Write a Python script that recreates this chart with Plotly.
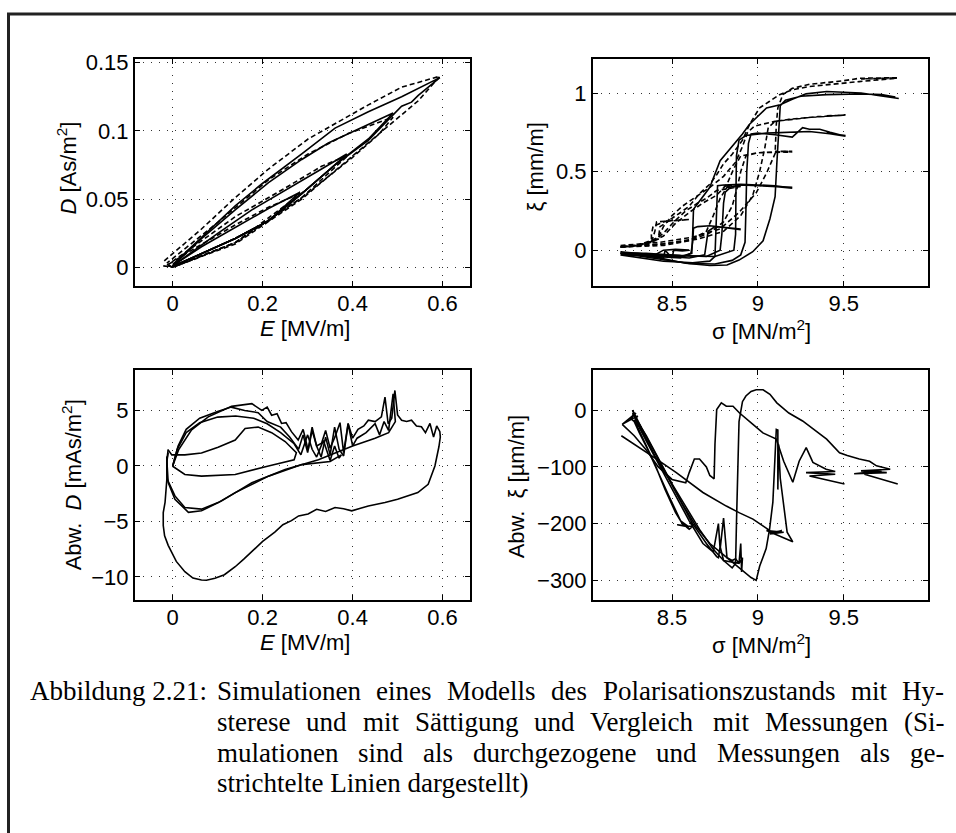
import plotly.graph_objects as go

W, H = 956, 833

# ---------------- Data: top-left  D over E ----------------
sim_E_06 = [0, 0.064, 0.139, 0.213, 0.287, 0.361, 0.435, 0.479, 0.509, 0.531, 0.546, 0.594, 0.509, 0.435, 0.361, 0.287, 0.198, 0.139, 0.064, 0]
sim_D_06 = [0.0005, 0.010, 0.021, 0.034, 0.054, 0.075, 0.093, 0.108, 0.118, 0.121, 0.126, 0.139, 0.125, 0.114, 0.102, 0.083, 0.061, 0.045, 0.022, 0.002]
sim_E_05 = [0, 0.064, 0.139, 0.213, 0.287, 0.361, 0.435, 0.490, 0.390, 0.346, 0.287, 0.213, 0.139, 0.064, 0]
sim_D_05 = [0.0005, 0.010, 0.021, 0.034, 0.054, 0.075, 0.094, 0.113, 0.098, 0.091, 0.079, 0.062, 0.042, 0.021, 0.001]
sim_E_04 = [0, 0.064, 0.139, 0.213, 0.287, 0.350, 0.387, 0.331, 0.250, 0.176, 0.101, 0]
sim_D_04 = [0.0005, 0.010, 0.021, 0.034, 0.054, 0.072, 0.083, 0.072, 0.056, 0.042, 0.025, 0.001]
sim_E_03 = [0, 0.064, 0.139, 0.213, 0.283, 0.213, 0.139, 0.064, 0]
sim_D_03 = [0.0005, 0.010, 0.021, 0.034, 0.055, 0.043, 0.029, 0.015, 0.001]

meas_E_06 = [-0.021, 0.0, 0.139, 0.287, 0.398, 0.494, 0.546, 0.594, 0.509, 0.435, 0.301, 0.213, 0.139, 0.064, -0.021]
meas_D_06 = [0.001, 0.0, 0.017, 0.050, 0.081, 0.108, 0.122, 0.140, 0.132, 0.119, 0.094, 0.072, 0.051, 0.028, 0.004]
meas_E_05 = [-0.013, 0.0, 0.139, 0.287, 0.398, 0.460, 0.490, 0.390, 0.301, 0.213, 0.101, -0.013]
meas_D_05 = [0.002, 0.0, 0.018, 0.051, 0.080, 0.098, 0.110, 0.098, 0.083, 0.064, 0.033, 0.003]
meas_E_04 = [-0.010, 0.0, 0.139, 0.287, 0.390, 0.331, 0.250, 0.139, 0.050, -0.010]
meas_D_04 = [0.001, 0.0, 0.018, 0.051, 0.082, 0.074, 0.058, 0.037, 0.016, 0.002]
meas_E_03 = [-0.010, 0.0, 0.139, 0.290, 0.213, 0.139, 0.050, -0.010]
meas_D_03 = [0.001, 0.0, 0.018, 0.055, 0.044, 0.031, 0.014, 0.002]

# ---------------- Data: top-right  xi over sigma ----------------
sim_s_98 = [8.20, 8.43, 8.58, 8.72, 8.82, 8.89, 8.97, 9.03, 9.07, 9.10, 9.11, 9.12, 9.13, 9.16, 9.25, 9.40, 9.60, 9.72, 9.80, 9.70, 9.82,
            9.60, 9.40, 9.28, 9.20, 9.13, 9.05, 8.95, 8.91, 8.84, 8.78, 8.72, 8.65, 8.625, 8.62, 8.615, 8.55, 8.43, 8.20]
sim_x_98 = [-0.01, -0.05, -0.083, -0.098, -0.094, -0.063, -0.01, 0.06, 0.20, 0.34, 0.55, 0.78, 0.92, 0.955, 0.98, 0.99, 0.995, 0.99, 0.975, 0.985, 0.965,
            1.00, 1.01, 0.995, 0.96, 0.925, 0.905, 0.80, 0.74, 0.65, 0.57, 0.40, 0.30, 0.26, 0.10, -0.02, -0.04, -0.035, -0.01]
sim_s_95 = [8.20, 8.43, 8.60, 8.75, 8.85, 8.90, 8.925, 8.93, 8.935, 8.945, 8.96, 9.00, 9.10, 9.20, 9.26, 9.30, 9.36, 9.42, 9.51, 9.40, 9.51,
            9.30, 9.05, 8.93, 8.89, 8.875, 8.872, 8.87, 8.86, 8.75, 8.55, 8.35, 8.20]
sim_x_95 = [-0.02, -0.06, -0.085, -0.088, -0.065, -0.03, 0.05, 0.25, 0.50, 0.68, 0.74, 0.745, 0.735, 0.72, 0.78, 0.77, 0.77, 0.75, 0.725, 0.745, 0.73,
            0.755, 0.745, 0.73, 0.70, 0.60, 0.35, 0.10, 0.0, -0.04, -0.035, -0.02, -0.02]
sim_s_92 = [8.20, 8.45, 8.62, 8.72, 8.75, 8.755, 8.76, 8.765, 8.80, 8.90, 9.00, 9.10, 9.20, 9.05, 9.20,
            8.90, 8.84, 8.81, 8.80, 8.79, 8.78, 8.70, 8.45, 8.20]
sim_x_92 = [-0.03, -0.07, -0.08, -0.07, -0.04, 0.10, 0.30, 0.41, 0.415, 0.42, 0.415, 0.41, 0.395, 0.41, 0.40,
            0.415, 0.40, 0.37, 0.30, 0.10, 0.0, -0.04, -0.03, -0.03]
sim_s_89 = [8.20, 8.40, 8.55, 8.61, 8.62, 8.625, 8.65, 8.72, 8.80, 8.90, 8.80, 8.90,
            8.75, 8.71, 8.70, 8.69, 8.60, 8.40, 8.20]
sim_x_89 = [-0.02, -0.04, -0.05, -0.02, 0.05, 0.14, 0.15, 0.155, 0.145, 0.13, 0.145, 0.135,
            0.15, 0.12, 0.05, -0.03, -0.05, -0.035, -0.02]
sim_s_86 = [8.20, 8.30, 8.40, 8.45, 8.46, 8.50, 8.51, 8.56, 8.60, 8.52, 8.45, 8.40, 8.30, 8.20]
sim_x_86 = [-0.02, -0.03, -0.045, -0.05, 0.0, -0.05, 0.0, -0.005, 0.0, 0.005, 0.0, -0.03, -0.02, -0.02]

meas_s_98 = [8.20, 8.43, 8.62, 8.78, 8.89, 8.99, 9.05, 9.10, 9.107, 9.116, 9.145, 9.20, 9.30, 9.49, 9.59, 9.70, 9.81, 9.60, 9.81,
             9.59, 9.30, 9.20, 9.126, 9.068, 9.01, 8.952, 8.91, 8.85, 8.80, 8.76, 8.72, 8.66, 8.60, 8.55, 8.49, 8.43, 8.39, 8.38, 8.38, 8.30, 8.20]
meas_x_98 = [0.03, 0.05, 0.083, 0.135, 0.24, 0.365, 0.49, 0.615, 0.80, 0.906, 0.99, 1.03, 1.056, 1.077, 1.094, 1.095, 1.098, 1.09, 1.095,
             1.073, 1.042, 1.021, 0.99, 0.948, 0.906, 0.802, 0.70, 0.61, 0.55, 0.48, 0.42, 0.36, 0.28, 0.24, 0.196, 0.17, 0.153, 0.10, 0.05, 0.03, 0.02]
meas_s_95 = [8.20, 8.45, 8.65, 8.80, 8.90, 8.97, 9.01, 9.04, 9.06, 9.10, 9.20, 9.35, 9.51, 9.40, 9.51,
             9.30, 9.10, 8.98, 8.94, 8.91, 8.87, 8.80, 8.72, 8.64, 8.56, 8.50, 8.45, 8.42, 8.30, 8.20]
meas_x_95 = [0.02, 0.04, 0.07, 0.12, 0.22, 0.35, 0.50, 0.65, 0.78, 0.82, 0.835, 0.85, 0.86, 0.855, 0.86,
             0.845, 0.82, 0.79, 0.75, 0.66, 0.56, 0.47, 0.40, 0.34, 0.28, 0.22, 0.15, 0.08, 0.03, 0.02]
meas_s_92 = [8.20, 8.45, 8.62, 8.72, 8.80, 8.85, 8.88, 8.90, 8.93, 9.00, 9.10, 9.20, 9.10, 9.20,
             9.00, 8.90, 8.86, 8.82, 8.76, 8.68, 8.60, 8.52, 8.45, 8.35, 8.20]
meas_x_92 = [0.02, 0.04, 0.07, 0.11, 0.18, 0.28, 0.40, 0.50, 0.60, 0.62, 0.625, 0.63, 0.63, 0.625,
             0.62, 0.60, 0.52, 0.42, 0.35, 0.30, 0.24, 0.17, 0.09, 0.04, 0.02]
meas_s_89 = [8.20, 8.45, 8.60, 8.70, 8.74, 8.78, 8.82, 8.90, 8.80, 8.90,
             8.76, 8.70, 8.65, 8.58, 8.52, 8.46, 8.40, 8.30, 8.20]
meas_x_89 = [0.02, 0.03, 0.06, 0.12, 0.22, 0.33, 0.40, 0.41, 0.41, 0.405,
             0.38, 0.33, 0.30, 0.25, 0.19, 0.12, 0.06, 0.03, 0.02]
meas_s_86 = [8.20, 8.32, 8.38, 8.40, 8.41, 8.45, 8.52, 8.60, 8.50, 8.60, 8.48, 8.43, 8.42, 8.30, 8.20]
meas_x_86 = [0.02, 0.03, 0.05, 0.12, 0.18, 0.185, 0.19, 0.195, 0.19, 0.195, 0.185, 0.15, 0.07, 0.03, 0.02]

# ---------------- Data: bottom-left  deviation of D ----------------
dev_E_03 = [-0.010, -0.002, 0.027, 0.064, 0.101, 0.139, 0.161, 0.190, 0.220, 0.250, 0.275, 0.270, 0.213, 0.139, 0.064, 0.027, 0.0]
dev_D_03 = [1.45, 1.0, 1.0, 1.16, 1.69, 2.34, 3.38, 3.5, 3.0, 2.2, 1.2, 0.56, 0.0, -0.77, -0.92, -0.77, -0.03]
dev_E_04 = [0.0, 0.01, 0.03, 0.06, 0.10, 0.14, 0.18, 0.21, 0.24, 0.27, 0.285, 0.30, 0.31, 0.32, 0.335, 0.35, 0.36, 0.37, 0.375,
            0.35, 0.287, 0.213, 0.139, 0.101, 0.064, 0.027, 0.005, -0.012, -0.013, -0.010]
dev_D_04 = [0.0, 1.5, 3.0, 3.9, 4.4, 4.5, 4.3, 3.8, 3.0, 2.0, 1.0, 2.8, 1.5, 0.8, 2.3, 0.5, 1.8, 0.7, 1.0,
            0.4, 0.12, -0.92, -2.4, -3.3, -3.89, -3.74, -2.7, -1.2, 0.4, 1.2]
dev_E_05 = [0.0, 0.012, 0.03, 0.06, 0.10, 0.13, 0.16, 0.19, 0.21, 0.24, 0.26, 0.28, 0.29, 0.30, 0.31, 0.32, 0.33, 0.34, 0.35, 0.36,
            0.37, 0.38, 0.39, 0.40, 0.41, 0.43, 0.45, 0.46, 0.47, 0.48, 0.49, 0.495,
            0.48, 0.45, 0.40, 0.35, 0.324, 0.25, 0.176, 0.109, 0.064, 0.035, 0.005, -0.010, -0.013, -0.010]
dev_D_05 = [0.0, 1.8, 3.3, 4.3, 4.9, 5.3, 5.0, 4.8, 4.0, 3.5, 2.6, 1.5, 2.8, 1.2, 3.2, 1.8, 0.8, 2.6, 1.0, 3.5,
            1.5, 0.9, 3.8, 1.8, 2.5, 3.0, 3.8, 2.8, 4.0, 3.2, 6.5, 4.0,
            3.0, 2.5, 1.8, 1.0, 0.56, -0.33, -1.51, -3.15, -4.04, -4.18, -3.0, -1.5, 0.5, 1.5]
dev_E_06 = [0.0, 0.013, 0.042, 0.079, 0.131, 0.176, 0.198, 0.210, 0.220, 0.232, 0.242, 0.252, 0.264, 0.279, 0.290, 0.301, 0.310,
            0.320, 0.331, 0.340, 0.350, 0.361, 0.372, 0.380, 0.390, 0.400, 0.412, 0.425, 0.435, 0.450, 0.464, 0.472, 0.479, 0.487,
            0.494, 0.500, 0.509, 0.520, 0.531, 0.542, 0.553, 0.562, 0.572, 0.580, 0.587, 0.594, 0.595,
            0.592, 0.583, 0.568, 0.545, 0.524, 0.500, 0.472, 0.435, 0.398, 0.380, 0.361, 0.340, 0.320, 0.301, 0.280, 0.264, 0.245,
            0.227, 0.200, 0.176, 0.158, 0.139, 0.115, 0.094, 0.075, 0.064, 0.045, 0.027, 0.008, -0.010, -0.018, -0.021, -0.021,
            -0.017, -0.013, -0.013]
dev_D_06 = [0.0, 1.45, 3.26, 4.42, 5.37, 5.61, 5.01, 5.3, 4.57, 4.7, 3.83, 3.9, 3.09, 2.34, 3.3, 1.45, 3.5,
            1.8, 2.05, 3.2, 1.6, 2.64, 3.9, 1.2, 3.83, 2.5, 3.3, 3.6, 4.12, 4.0, 4.42, 6.2, 3.8, 4.3,
            6.8, 4.6, 4.12, 4.0, 4.12, 3.6, 3.53, 3.0, 3.83, 2.6, 3.6, 3.09, 2.6,
            1.75, 0.0, -1.66, -2.4, -2.70, -3.0, -3.29, -3.6, -4.04, -3.85, -3.74, -4.1, -3.9, -4.33, -4.5, -4.93, -5.3,
            -5.96, -6.8, -7.74, -8.4, -9.08, -9.8, -10.12, -10.3, -10.27, -10.1, -9.53, -8.6, -7.15, -6.3, -5.37, -4.2,
            -3.29, -1.22, 0.86]

# ---------------- Data: bottom-right  deviation of xi ----------------
dev_s_98 = [8.27, 8.30, 8.35, 8.42, 8.50, 8.58, 8.66, 8.74, 8.80, 8.85, 8.87, 8.875, 8.88, 8.89, 8.91, 8.93, 8.96, 8.99, 9.03,
            9.07, 9.11, 9.18, 9.26, 9.33, 9.40, 9.475, 9.52, 9.59, 9.65, 9.69, 9.77, 9.60, 9.75, 9.56, 9.72, 9.62, 9.814]
dev_x_98 = [0, -20, -45, -85, -130, -170, -210, -245, -265, -278, -270, -200, -120, -20, 15, 25, 33, 36, 36,
            28, 13, -5, -19, -35, -51, -75, -80, -86, -90, -98, -104, -107, -110, -112, -107, -113, -130]
dev_s_95 = [8.21, 8.28, 8.35, 8.42, 8.50, 8.58, 8.60, 8.63, 8.66, 8.70, 8.72, 8.745, 8.75, 8.755, 8.76, 8.787, 8.816, 8.855,
            8.893, 8.971, 9.029, 9.107, 9.15, 9.203, 9.24, 9.281, 9.32, 9.397, 9.45, 9.28, 9.45, 9.30, 9.504]
dev_x_95 = [-25, -45, -70, -100, -122, -128, -110, -86, -86, -100, -115, -121, -60, -10, 1, 13, 7, 7,
            -5, -25, -40, -51, -90, -127, -90, -66, -92, -104, -108, -110, -113, -116, -130]
dev_s_92 = [8.27, 8.32, 8.40, 8.48, 8.56, 8.64, 8.72, 8.80, 8.86, 8.92, 8.96, 8.99, 9.01, 9.048, 9.068, 9.087, 9.097, 9.107,
            9.116, 9.116, 9.12, 9.13, 9.15, 9.17, 9.203, 9.05, 9.15, 9.07, 9.14, 9.087, 9.029, 8.971, 8.893, 8.816, 8.68,
            8.525, 8.38, 8.205]
dev_x_92 = [-5, -30, -75, -120, -165, -205, -235, -255, -270, -285, -295, -300, -275, -244, -209, -162, -104, -34,
            -35, -140, -60, -120, -170, -215, -232, -212, -215, -218, -212, -216, -204, -192, -181, -169, -145,
            -110, -80, -45]
dev_s_89 = [8.28, 8.30, 8.36, 8.44, 8.52, 8.60, 8.68, 8.74, 8.77, 8.78, 8.80, 8.82, 8.85, 8.87, 8.89, 8.90, 8.905, 8.91,
            8.89, 8.85, 8.80, 8.78, 8.77, 8.76, 8.70, 8.62, 8.55, 8.48, 8.40, 8.33, 8.28]
dev_x_89 = [-10, -25, -60, -105, -150, -195, -235, -250, -200, -245, -190, -260, -265, -262, -270, -235, -285, -260,
            -270, -268, -265, -240, -260, -258, -235, -200, -160, -120, -80, -40, -10]
dev_s_86 = [8.26, 8.28, 8.30, 8.34, 8.40, 8.46, 8.52, 8.56, 8.60, 8.62, 8.53, 8.60, 8.55, 8.48, 8.42, 8.36, 8.31, 8.28,
            8.30, 8.21, 8.29, 8.26, 8.32, 8.27]
dev_x_86 = [-15, -5, -30, -55, -95, -140, -180, -200, -210, -205, -202, -206, -195, -150, -110, -70, -40, -20,
            -10, -25, -5, -15, -30, 0]

# ---------------- Tick labels and text ----------------
E_ticks = [0, 0.2, 0.4, 0.6]
E_labels = ["0", "0.2", "0.4", "0.6"]
D_ticks = [0, 0.05, 0.1, 0.15]
D_labels = ["0", "0.05", "0.1", "0.15"]
s_ticks = [8.5, 9, 9.5]
s_labels = ["8.5", "9", "9.5"]
xi_ticks = [0, 0.5, 1]
xi_labels = ["0", "0.5", "1"]
dD_ticks = [-10, -5, 0, 5]
dD_labels = ["\u221210", "\u22125", "0", "5"]
dxi_ticks = [-300, -200, -100, 0]
dxi_labels = ["\u2212300", "\u2212200", "\u2212100", "0"]

caption_label = "Abbildung 2.21:"
caption_lines = [
    "Simulationen eines Modells des Polarisationszustands mit Hy-",
    "sterese und mit Sättigung und Vergleich mit Messungen (Si-",
    "mulationen sind als durchgezogene und Messungen als ge-",
    "strichtelte Linien dargestellt)",
]

# ---------------- Figure ----------------
fig = go.Figure()
SOLID = dict(color="black", width=1.6)
DASH = dict(color="black", width=1.6, dash="5px,3px")


def add(x, y, axn, dashed):
    fig.add_trace(go.Scatter(x=x, y=y, mode="lines", xaxis="x" + axn, yaxis="y" + axn,
                             line=DASH if dashed else SOLID, showlegend=False, hoverinfo="skip"))


for e, d in [(meas_E_06, meas_D_06), (meas_E_05, meas_D_05), (meas_E_04, meas_D_04), (meas_E_03, meas_D_03)]:
    add(e, d, "", True)
for e, d in [(sim_E_06, sim_D_06), (sim_E_05, sim_D_05), (sim_E_04, sim_D_04), (sim_E_03, sim_D_03)]:
    add(e, d, "", False)

for s, x in [(meas_s_98, meas_x_98), (meas_s_95, meas_x_95), (meas_s_92, meas_x_92), (meas_s_89, meas_x_89), (meas_s_86, meas_x_86)]:
    add(s, x, "2", True)
for s, x in [(sim_s_98, sim_x_98), (sim_s_95, sim_x_95), (sim_s_92, sim_x_92), (sim_s_89, sim_x_89), (sim_s_86, sim_x_86)]:
    add(s, x, "2", False)

for e, d in [(dev_E_03, dev_D_03), (dev_E_04, dev_D_04), (dev_E_05, dev_D_05), (dev_E_06, dev_D_06)]:
    add(e, d, "3", False)

for s, x in [(dev_s_98, dev_x_98), (dev_s_95, dev_x_95), (dev_s_92, dev_x_92), (dev_s_89, dev_x_89), (dev_s_86, dev_x_86)]:
    add(s, x, "4", False)

SANS = "Liberation Sans, Arial, sans-serif"
TICKFONT = dict(family=SANS, size=22, color="black")


def axis(domain, rng, tv, tt, anchor, is_x):
    d = dict(domain=domain, range=rng, tickvals=tv, ticktext=tt, anchor=anchor,
             showgrid=True, griddash="1px,7px", gridcolor="#333", gridwidth=1,
             zeroline=False, showline=True, linewidth=2, linecolor="black", mirror="ticks",
             ticks="inside", ticklen=5, tickwidth=1, tickcolor="black", tickfont=TICKFONT,
             fixedrange=True)
    d["ticklabelstandoff"] = -4 if is_x else 0
    return d


xL = [135 / W, 470 / W]
xR = [593 / W, 928 / W]
yT = [1 - 281 / H, 1 - 51 / H]
yB = [1 - 598 / H, 1 - 366 / H]

fig.update_layout(
    width=W, height=H, margin=dict(l=0, r=0, t=0, b=0),
    paper_bgcolor="white", plot_bgcolor="white", showlegend=False,
    xaxis=axis(xL, [-0.0838, 0.661], E_ticks, E_labels, "y", True),
    yaxis=axis(yT, [-0.014, 0.153], D_ticks, D_labels, "x", False),
    xaxis2=axis(xR, [8.04, 9.99], s_ticks, s_labels, "y2", True),
    yaxis2=axis(yT, [-0.23, 1.22], xi_ticks, xi_labels, "x2", False),
    xaxis3=axis(xL, [-0.0838, 0.661], E_ticks, E_labels, "y3", True),
    yaxis3=axis(yB, [-12.1, 8.6], dD_ticks, dD_labels, "x3", False),
    xaxis4=axis(xR, [8.04, 9.99], s_ticks, s_labels, "y4", True),
    yaxis4=axis(yB, [-335, 70], dxi_ticks, dxi_labels, "x4", False),
)

ann = []


def text(px, py, t, angle=0, size=22, family=SANS, xanchor="center", yanchor="middle"):
    ann.append(dict(x=px / W, y=1 - py / H, xref="paper", yref="paper", text=t, showarrow=False,
                    textangle=angle, xanchor=xanchor, yanchor=yanchor,
                    font=dict(family=family, size=size, color="black")))


NB = "\u00a0"
text(305, 324, "<i>E</i> [MV/m]")
text(305, 641, "<i>E</i> [MV/m]")
text(761, 325, "\u03c3 [MN/m<sup>2</sup>]")
text(761, 642, "\u03c3 [MN/m<sup>2</sup>]")
text(67, 162, "<i>D</i> [As/m<sup>2</sup>]", angle=-90)
text(72, 482, "Abw." + NB + NB + "<i>D</i> [mAs/m<sup>2</sup>]", angle=-90)
text(535, 161, "\u03be [mm/m]", angle=-90)
text(516, 483, "Abw." + NB + NB + "\u03be [\u00b5m/m]", angle=-90)

# ---- caption, justified word by word (Times metrics) ----
TW = {" ": 250, "(": 333, ")": 333, "-": 333, ".": 250, ":": 278, "ä": 444,
      "A": 722, "H": 722, "L": 611, "M": 889, "P": 556, "S": 556, "V": 722}
for c in "0123456789":
    TW[c] = 500
TW.update({"a": 444, "b": 500, "c": 444, "d": 500, "e": 444, "f": 333, "g": 500, "h": 500, "i": 278, "j": 278,
           "k": 500, "l": 278, "m": 778, "n": 500, "o": 500, "p": 500, "q": 500, "r": 333, "s": 389, "t": 278,
           "u": 500, "v": 500, "w": 722, "x": 500, "y": 500, "z": 444})
CAP_SIZE = 27
SERIF = "Liberation Serif, Times New Roman, serif"


def wwidth(w):
    return sum(TW.get(c, 500) for c in w) / 1000 * CAP_SIZE


cap_left, cap_right, cap_label_x = 215, 942, 28
cap_y0, cap_dy = 690, 31
text(cap_label_x, cap_y0, caption_label, size=CAP_SIZE, family=SERIF, xanchor="left")
for i, line in enumerate(caption_lines):
    y = cap_y0 + i * cap_dy
    words = line.split(" ")
    if i == len(caption_lines) - 1:
        text(cap_left, y, line, size=CAP_SIZE, family=SERIF, xanchor="left")
        continue
    widths = [wwidth(w) for w in words]
    gap = (cap_right - cap_left - sum(widths)) / (len(words) - 1)
    xpos = cap_left
    for w, wd in zip(words, widths):
        text(xpos, y, w, size=CAP_SIZE, family=SERIF, xanchor="left")
        xpos += wd + gap

fig.update_layout(annotations=ann)

# outer page frame (top and left rules)
fig.add_shape(type="line", xref="paper", yref="paper", x0=7 / W, x1=1, y0=1 - 6 / H, y1=1 - 6 / H,
              line=dict(color="#222", width=3))
fig.add_shape(type="line", xref="paper", yref="paper", x0=8.5 / W, x1=8.5 / W, y0=0, y1=1 - 5 / H,
              line=dict(color="#222", width=3))

fig.write_html("out.html")
